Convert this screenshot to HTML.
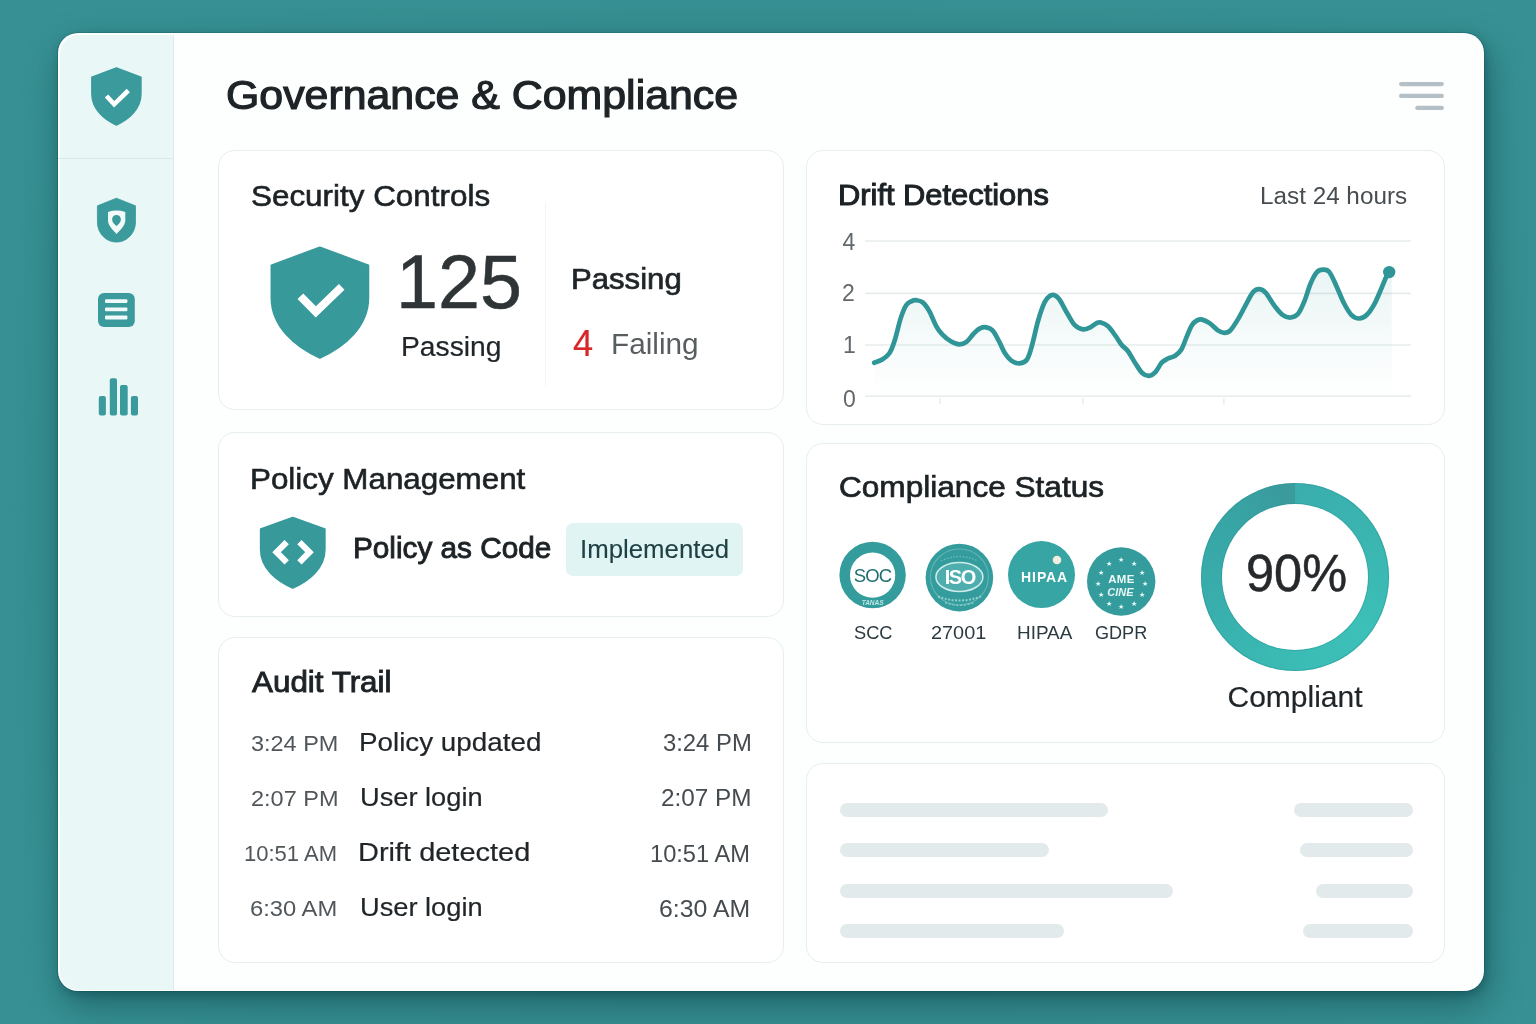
<!DOCTYPE html>
<html lang="en">
<head>
<meta charset="utf-8">
<title>Governance &amp; Compliance</title>
<style>
html,body{margin:0;padding:0}
body{width:1536px;height:1024px;overflow:hidden;position:relative;background:#368f91;font-family:"Liberation Sans",sans-serif}
.bg{position:absolute;left:0;top:0;width:1536px;height:1024px;background:radial-gradient(ellipse 80% 80% at 50% 50%,#358d90 0%,#368f92 60%,#389396 100%)}
.panel{position:absolute;left:58px;top:33px;width:1426px;height:958px;border-radius:20px;background:#fdfefe;box-shadow:4px 14px 36px rgba(6,52,58,.46),2px 4px 8px rgba(6,52,58,.30),0 0 0 1px rgba(20,105,110,.35)}
.side{position:absolute;left:59.5px;top:34.5px;width:113.5px;height:955px;background:#eaf7f7;border-radius:18.5px 0 0 18.5px;border-right:1px solid #dcebec}
.sdiv{position:absolute;left:58px;top:158px;width:115px;height:1px;background:#dbe9eb}
.card{position:absolute;background:#fff;border:1px solid #e6eef0;border-radius:17px;box-sizing:border-box}
.t{position:absolute;white-space:nowrap;line-height:1;margin:0;transform-origin:0 50%}
.abs{position:absolute}
.sk{position:absolute;height:14px;border-radius:7px;background:#e2eaeb}
svg{position:absolute;left:0;top:0;overflow:visible}
svg text{font-family:"Liberation Sans",sans-serif}
</style>
</head>
<body>
<div class="bg"></div>
<div class="panel"></div>
<div class="side"></div>
<div class="sdiv"></div>

<!-- cards -->
<div class="card" style="left:218px;top:150px;width:566px;height:260px"></div>
<div class="card" style="left:218px;top:432px;width:566px;height:185px"></div>
<div class="card" style="left:218px;top:637px;width:566px;height:326px"></div>
<div class="card" style="left:806px;top:150px;width:639px;height:275px"></div>
<div class="card" style="left:806px;top:443px;width:639px;height:300px"></div>
<div class="card" style="left:806px;top:763px;width:639px;height:200px"></div>

<!-- security divider -->
<div class="abs" style="left:545px;top:202px;width:1px;height:184px;background:#f3f6f6"></div>

<!-- implemented badge -->
<div class="abs" style="left:565.5px;top:522.5px;width:177px;height:53px;border-radius:7px;background:#e0f4f4"></div>

<!-- skeleton bars -->
<div class="sk" style="left:839.5px;top:803px;width:268.5px"></div>
<div class="sk" style="left:1294px;top:803px;width:119px"></div>
<div class="sk" style="left:839.5px;top:843px;width:209.5px"></div>
<div class="sk" style="left:1300px;top:843px;width:113px"></div>
<div class="sk" style="left:839.5px;top:884px;width:333.5px"></div>
<div class="sk" style="left:1316px;top:884px;width:97px"></div>
<div class="sk" style="left:839.5px;top:923.5px;width:224.5px"></div>
<div class="sk" style="left:1303px;top:923.5px;width:110px"></div>

<svg width="1536" height="1024" viewBox="0 0 1536 1024">
<defs>
<linearGradient id="area" x1="0" y1="0" x2="0" y2="1">
<stop offset="0" stop-color="#2f9596" stop-opacity=".10"/>
<stop offset="1" stop-color="#2f9596" stop-opacity="0"/>
</linearGradient>
<linearGradient id="ring" x1="0" y1="0" x2="1" y2="1">
<stop offset="0" stop-color="#35a0a1"/>
<stop offset="1" stop-color="#3cc0b8"/>
</linearGradient>
</defs>

<!-- hamburger -->
<g stroke="#b4c0c6" stroke-width="4.2" stroke-linecap="round">
<line x1="1401.1" y1="84.1" x2="1441.8" y2="84.1"/>
<line x1="1401.1" y1="95.9" x2="1441.8" y2="95.9"/>
<line x1="1417.3" y1="107.9" x2="1441.8" y2="107.9"/>
</g>

<!-- sidebar logo shield -->
<g transform="translate(91.85,68.05) scale(0.491,0.50)">
<path d="M50 0 L100 18.5 V52 C100 82 75 103 50 114 C25 103 0 82 0 52 V18.5 Z" fill="#3a9a9c" stroke="#3a9a9c" stroke-width="3" stroke-linejoin="round"/>
</g>
<polyline points="106.5,96 114.2,104.3 128.3,90.5" fill="none" stroke="#fff" stroke-width="4.6"/>

<!-- sidebar icon 2: shield with pin -->
<path d="M116.4 198.2 L135.5 205.8 V222 C135.5 233.4 126.8 242.1 116.4 242.1 C106 242.1 97.4 233.4 97.4 222 V205.8 Z" fill="#3a9a9c" stroke="#3a9a9c" stroke-width="0.8" stroke-linejoin="round"/>
<path d="M108 212 Q116.6 209.2 125.3 212 V220.5 C125.3 225.5 120 230.5 116.6 233.9 C113.2 230.5 108 225.5 108 220.5 Z" fill="#f2fafa"/>
<path d="M116.5 214.9 C119.2 214.9 120.9 217 120.9 219.4 C120.9 222.2 118.3 224.3 116.5 225.9 C114.7 224.3 112.1 222.2 112.1 219.4 C112.1 217 113.8 214.9 116.5 214.9 Z" fill="#3a9a9c"/>

<!-- sidebar icon 3: list -->
<rect x="98" y="292.9" width="36.8" height="34.2" rx="6" fill="#3a9a9c"/>
<g fill="#f1fafa">
<rect x="105" y="299.3" width="22.4" height="3.8" rx="1"/>
<rect x="105" y="307.4" width="22.4" height="3.8" rx="1"/>
<rect x="105" y="315.6" width="22.4" height="3.8" rx="1"/>
</g>

<!-- sidebar icon 4: bars -->
<g fill="#3a9a9c">
<rect x="98.8" y="396" width="7.1" height="19.6" rx="2"/>
<rect x="109.8" y="378.3" width="7.2" height="37.3" rx="2"/>
<rect x="120" y="385" width="7.7" height="30.6" rx="2"/>
<rect x="130.9" y="396" width="7.1" height="19.6" rx="2"/>
</g>

<!-- big shield -->
<g transform="translate(271.5,247.4) scale(0.968,0.968)">
<path d="M50 0 L100 18.5 V52 C100 82 75 103 50 114 C25 103 0 82 0 52 V18.5 Z" fill="#38999b" stroke="#38999b" stroke-width="2" stroke-linejoin="round"/>
</g>
<polyline points="300.4,296.2 315.8,311.9 341.7,286.8" fill="none" stroke="#fff" stroke-width="8"/>

<!-- policy shield -->
<g transform="translate(260.8,517.7) scale(0.639,0.615)">
<path d="M50 0 L100 18.5 V52 C100 82 75 103 50 114 C25 103 0 82 0 52 V18.5 Z" fill="#38999b" stroke="#38999b" stroke-width="3" stroke-linejoin="round"/>
</g>
<g fill="none" stroke="#fff" stroke-width="6.1">
<polyline points="286.7,542.1 276.6,552.2 286.7,562.4"/>
<polyline points="299.4,542.1 309.5,552.2 299.4,562.4"/>
</g>

<!-- chart -->
<g stroke="#e7ecec" stroke-width="1.6">
<line x1="865" y1="241" x2="1411" y2="241"/>
<line x1="865" y1="293.4" x2="1411" y2="293.4"/>
<line x1="865" y1="345" x2="1411" y2="345"/>
<line x1="865" y1="396.3" x2="1411" y2="396.3"/>
<line x1="939.8" y1="398.3" x2="939.8" y2="404.3"/>
<line x1="1083.1" y1="398.3" x2="1083.1" y2="404.3"/>
<line x1="1223.8" y1="398.3" x2="1223.8" y2="404.3"/>
</g>
<path d="M874.2 362.7C875.5 362.2 879.6 361.2 882.1 359.6C884.6 358.0 887.3 356.4 889.4 353.3C891.5 350.2 892.7 346.7 894.6 340.8C896.5 334.9 898.9 323.8 900.8 317.9C902.7 312.0 904.2 308.2 906.0 305.4C907.8 302.6 909.5 302.2 911.3 301.3C913.0 300.4 914.6 300.0 916.5 300.2C918.4 300.4 920.6 300.6 922.7 302.3C924.8 304.0 926.7 306.6 929.0 310.6C931.3 314.6 934.0 322.3 936.3 326.3C938.5 330.3 940.1 332.1 942.5 334.6C944.9 337.1 948.0 339.7 950.8 341.3C953.6 342.9 956.6 344.3 959.2 344.4C961.8 344.5 964.1 343.7 966.5 341.9C968.9 340.1 971.5 335.8 973.8 333.5C976.0 331.2 977.9 329.3 980.0 328.3C982.1 327.3 984.2 327.0 986.3 327.3C988.4 327.6 990.4 328.1 992.5 330.4C994.6 332.6 996.7 337.0 998.8 340.8C1000.9 344.6 1002.9 350.0 1005.0 353.3C1007.1 356.6 1008.9 358.9 1011.3 360.6C1013.7 362.3 1017.0 363.5 1019.6 363.3C1022.2 363.1 1024.8 362.7 1026.9 359.6C1029.0 356.6 1030.2 351.6 1032.1 345.0C1034.0 338.4 1036.2 327.1 1038.3 320.0C1040.4 312.9 1042.7 306.3 1044.6 302.3C1046.5 298.3 1048.2 297.2 1049.8 296.0C1051.4 294.8 1052.4 294.5 1054.0 295.0C1055.6 295.5 1057.0 296.1 1059.2 299.2C1061.5 302.3 1064.9 309.5 1067.5 313.8C1070.1 318.1 1072.2 322.6 1074.8 325.2C1077.4 327.8 1080.5 329.0 1083.1 329.4C1085.7 329.8 1088.1 328.4 1090.4 327.3C1092.7 326.2 1095.0 323.9 1096.7 323.1C1098.4 322.3 1098.9 322.0 1100.8 322.5C1102.7 323.0 1105.7 324.1 1108.1 326.3C1110.5 328.5 1113.1 332.5 1115.4 335.6C1117.7 338.7 1119.6 342.4 1121.7 345.0C1123.8 347.6 1125.8 348.1 1128.1 351.3C1130.4 354.5 1133.4 360.4 1135.8 364.0C1138.2 367.6 1140.0 370.9 1142.2 372.9C1144.4 374.9 1146.8 375.9 1149.0 375.8C1151.2 375.7 1153.3 374.3 1155.4 372.1C1157.5 369.9 1159.6 365.0 1161.7 362.7C1163.8 360.4 1165.7 359.6 1167.9 358.5C1170.2 357.4 1172.9 357.4 1175.2 355.8C1177.5 354.2 1179.6 352.4 1181.5 349.2C1183.4 346.0 1185.0 340.7 1186.7 336.7C1188.4 332.7 1190.2 327.9 1191.9 325.2C1193.6 322.5 1195.4 321.3 1197.1 320.4C1198.8 319.5 1200.2 319.2 1202.3 319.6C1204.4 320.1 1207.0 321.3 1209.6 323.1C1212.2 324.9 1215.5 328.8 1217.9 330.4C1220.3 332.0 1222.1 332.9 1224.2 332.9C1226.3 332.9 1228.0 332.9 1230.4 330.4C1232.8 327.9 1236.0 322.6 1238.8 317.9C1241.6 313.2 1244.7 306.6 1247.1 302.3C1249.5 298.0 1251.2 294.1 1253.3 291.9C1255.4 289.7 1257.5 289.0 1259.6 289.2C1261.7 289.4 1263.4 290.2 1265.8 292.9C1268.2 295.6 1271.4 301.8 1274.2 305.4C1277.0 309.0 1279.7 312.8 1282.5 314.8C1285.3 316.8 1288.2 317.7 1290.8 317.5C1293.4 317.3 1295.8 316.5 1298.1 313.8C1300.4 311.1 1302.3 306.4 1304.4 301.3C1306.5 296.2 1308.5 288.4 1310.6 283.5C1312.7 278.6 1314.8 274.4 1316.9 272.1C1319.0 269.8 1321.0 269.6 1323.1 269.6C1325.2 269.6 1327.1 269.2 1329.4 272.1C1331.7 275.0 1334.3 281.5 1336.7 286.7C1339.1 291.9 1341.6 298.6 1344.0 303.3C1346.4 308.0 1348.8 312.3 1351.3 314.8C1353.8 317.3 1356.6 318.5 1359.2 318.5C1361.8 318.5 1364.4 317.2 1366.9 314.8C1369.4 312.4 1372.0 308.4 1374.2 304.4C1376.5 300.4 1378.5 295.1 1380.4 290.8C1382.3 286.5 1384.2 281.4 1385.6 278.3C1387.0 275.2 1388.3 273.1 1388.8 272.1 L1391.8 277 L1391.8 396 L874.2 396 Z" fill="url(#area)"/>
<path d="M874.2 362.7C875.5 362.2 879.6 361.2 882.1 359.6C884.6 358.0 887.3 356.4 889.4 353.3C891.5 350.2 892.7 346.7 894.6 340.8C896.5 334.9 898.9 323.8 900.8 317.9C902.7 312.0 904.2 308.2 906.0 305.4C907.8 302.6 909.5 302.2 911.3 301.3C913.0 300.4 914.6 300.0 916.5 300.2C918.4 300.4 920.6 300.6 922.7 302.3C924.8 304.0 926.7 306.6 929.0 310.6C931.3 314.6 934.0 322.3 936.3 326.3C938.5 330.3 940.1 332.1 942.5 334.6C944.9 337.1 948.0 339.7 950.8 341.3C953.6 342.9 956.6 344.3 959.2 344.4C961.8 344.5 964.1 343.7 966.5 341.9C968.9 340.1 971.5 335.8 973.8 333.5C976.0 331.2 977.9 329.3 980.0 328.3C982.1 327.3 984.2 327.0 986.3 327.3C988.4 327.6 990.4 328.1 992.5 330.4C994.6 332.6 996.7 337.0 998.8 340.8C1000.9 344.6 1002.9 350.0 1005.0 353.3C1007.1 356.6 1008.9 358.9 1011.3 360.6C1013.7 362.3 1017.0 363.5 1019.6 363.3C1022.2 363.1 1024.8 362.7 1026.9 359.6C1029.0 356.6 1030.2 351.6 1032.1 345.0C1034.0 338.4 1036.2 327.1 1038.3 320.0C1040.4 312.9 1042.7 306.3 1044.6 302.3C1046.5 298.3 1048.2 297.2 1049.8 296.0C1051.4 294.8 1052.4 294.5 1054.0 295.0C1055.6 295.5 1057.0 296.1 1059.2 299.2C1061.5 302.3 1064.9 309.5 1067.5 313.8C1070.1 318.1 1072.2 322.6 1074.8 325.2C1077.4 327.8 1080.5 329.0 1083.1 329.4C1085.7 329.8 1088.1 328.4 1090.4 327.3C1092.7 326.2 1095.0 323.9 1096.7 323.1C1098.4 322.3 1098.9 322.0 1100.8 322.5C1102.7 323.0 1105.7 324.1 1108.1 326.3C1110.5 328.5 1113.1 332.5 1115.4 335.6C1117.7 338.7 1119.6 342.4 1121.7 345.0C1123.8 347.6 1125.8 348.1 1128.1 351.3C1130.4 354.5 1133.4 360.4 1135.8 364.0C1138.2 367.6 1140.0 370.9 1142.2 372.9C1144.4 374.9 1146.8 375.9 1149.0 375.8C1151.2 375.7 1153.3 374.3 1155.4 372.1C1157.5 369.9 1159.6 365.0 1161.7 362.7C1163.8 360.4 1165.7 359.6 1167.9 358.5C1170.2 357.4 1172.9 357.4 1175.2 355.8C1177.5 354.2 1179.6 352.4 1181.5 349.2C1183.4 346.0 1185.0 340.7 1186.7 336.7C1188.4 332.7 1190.2 327.9 1191.9 325.2C1193.6 322.5 1195.4 321.3 1197.1 320.4C1198.8 319.5 1200.2 319.2 1202.3 319.6C1204.4 320.1 1207.0 321.3 1209.6 323.1C1212.2 324.9 1215.5 328.8 1217.9 330.4C1220.3 332.0 1222.1 332.9 1224.2 332.9C1226.3 332.9 1228.0 332.9 1230.4 330.4C1232.8 327.9 1236.0 322.6 1238.8 317.9C1241.6 313.2 1244.7 306.6 1247.1 302.3C1249.5 298.0 1251.2 294.1 1253.3 291.9C1255.4 289.7 1257.5 289.0 1259.6 289.2C1261.7 289.4 1263.4 290.2 1265.8 292.9C1268.2 295.6 1271.4 301.8 1274.2 305.4C1277.0 309.0 1279.7 312.8 1282.5 314.8C1285.3 316.8 1288.2 317.7 1290.8 317.5C1293.4 317.3 1295.8 316.5 1298.1 313.8C1300.4 311.1 1302.3 306.4 1304.4 301.3C1306.5 296.2 1308.5 288.4 1310.6 283.5C1312.7 278.6 1314.8 274.4 1316.9 272.1C1319.0 269.8 1321.0 269.6 1323.1 269.6C1325.2 269.6 1327.1 269.2 1329.4 272.1C1331.7 275.0 1334.3 281.5 1336.7 286.7C1339.1 291.9 1341.6 298.6 1344.0 303.3C1346.4 308.0 1348.8 312.3 1351.3 314.8C1353.8 317.3 1356.6 318.5 1359.2 318.5C1361.8 318.5 1364.4 317.2 1366.9 314.8C1369.4 312.4 1372.0 308.4 1374.2 304.4C1376.5 300.4 1378.5 295.1 1380.4 290.8C1382.3 286.5 1384.2 281.4 1385.6 278.3C1387.0 275.2 1388.3 273.1 1388.8 272.1" fill="none" stroke="#2f9596" stroke-width="4.7" stroke-linecap="round" stroke-linejoin="round"/>
<circle cx="1389.2" cy="272.1" r="6.2" fill="#2f9596"/>

<!-- donut -->


<!-- badges -->
<circle cx="872.6" cy="575" r="33.2" fill="#349c9d"/>
<circle cx="872.6" cy="575.2" r="22.6" fill="#fff"/>
<text x="872.6" y="581.8" font-size="18.5" text-anchor="middle" fill="#1f6f72" letter-spacing="-0.8">SOC</text>
<text x="872.6" y="604.5" font-size="6.5" text-anchor="middle" fill="#bfe6e5" font-style="italic" font-weight="700">TANAS</text>

<circle cx="959.4" cy="577.6" r="33.8" fill="#349c9d"/>
<ellipse cx="959.4" cy="577" rx="29" ry="28" fill="none" stroke="#5fb4b3" stroke-width="1.2"/>
<ellipse cx="959.4" cy="577" rx="23.5" ry="14.5" fill="#4eaeae" stroke="#cfeceb" stroke-width="1.5"/>
<text x="959.8" y="584.3" font-size="20" font-weight="700" text-anchor="middle" fill="#fff" letter-spacing="-1.4">ISO</text>
<path d="M938 596.5 Q959.4 604.5 981 596.5" fill="none" stroke="#8fd0ce" stroke-width="2" stroke-dasharray="2 1.5"/>
<path d="M945 602.5 Q959.4 608 974 602.5" fill="none" stroke="#7cc6c4" stroke-width="1.6" stroke-dasharray="2.4 1.4"/>
<path d="M941 561 Q959.4 552 978 561" fill="none" stroke="#6dbdbb" stroke-width="1.2" stroke-dasharray="1.6 1.6"/>

<circle cx="1041.5" cy="574.6" r="33.5" fill="#36a5a4"/>
<text x="1044.6" y="581.8" font-size="14" font-weight="700" text-anchor="middle" fill="#fff" letter-spacing="0.9">HIPAA</text>
<circle cx="1057" cy="560" r="4.3" fill="#f3ede0"/>

<circle cx="1121.2" cy="581.5" r="34.2" fill="#349c9d"/>
<text x="1121.5" y="582.5" font-size="11.5" font-weight="700" text-anchor="middle" fill="#eefaf9" letter-spacing="0.3">AME</text>
<text x="1120.5" y="595.5" font-size="11" font-weight="700" text-anchor="middle" fill="#e3f5f4" font-style="italic">CINE</text>
<g fill="#e9f8f7" font-size="7" text-anchor="middle">
<text x="1121.2" y="562">★</text>
<text x="1133.5" y="565.5">★</text>
<text x="1142" y="574.5">★</text>
<text x="1145" y="586">★</text>
<text x="1142" y="597">★</text>
<text x="1133.5" y="605.5">★</text>
<text x="1121.2" y="609">★</text>
<text x="1109" y="605.5">★</text>
<text x="1100.5" y="597">★</text>
<text x="1097.5" y="586">★</text>
<text x="1100.5" y="574.5">★</text>
<text x="1109" y="565.5">★</text>
</g>
</svg>

<!-- donut -->
<div class="abs" style="left:1201.3px;top:482.6px;width:188px;height:188px;border-radius:50%;background:conic-gradient(from 0deg,#3aaead 0deg,#3bb6b1 70deg,#3cc0b8 130deg,#3bbab4 190deg,#38adab 260deg,#38a5a5 310deg,#3a9c9e 345deg,#3b9a9c 360deg);box-shadow:inset 0 0 0 1px rgba(40,150,150,.5)"></div>
<div class="abs" style="left:1222.3px;top:503.6px;width:146px;height:146px;border-radius:50%;background:#fff;box-shadow:0 0 0 1px rgba(40,150,150,.45)"></div>
<div class="t" style="left:225.8px;top:75.0px;font-size:40.5px;color:#1d2326;transform:scaleX(1.058);-webkit-text-stroke:1.2px #1d2326;">Governance &amp; Compliance</div>
<div class="t" style="left:251.2px;top:181.8px;font-size:29.2px;color:#1c2225;transform:scaleX(1.076);-webkit-text-stroke:0.6px #1c2225;">Security Controls</div>
<div class="t" style="left:396.1px;top:244.9px;font-size:75.5px;color:#2f3437;-webkit-text-stroke:0.5px #2f3437;">125</div>
<div class="t" style="left:400.5px;top:333.5px;font-size:27px;color:#1f2528;transform:scaleX(1.046);-webkit-text-stroke:0.2px #1f2528;">Passing</div>
<div class="t" style="left:571.2px;top:264.5px;font-size:29px;color:#1f2528;transform:scaleX(1.073);-webkit-text-stroke:0.7px #1f2528;">Passing</div>
<div class="t" style="left:573.1px;top:325.6px;font-size:36.5px;color:#d9262a;transform:scaleX(0.990);-webkit-text-stroke:0.2px #d9262a;">4</div>
<div class="t" style="left:611.0px;top:329.2px;font-size:30px;color:#585d60;transform:scaleX(0.992);">Failing</div>
<div class="t" style="left:250.1px;top:465.1px;font-size:29px;color:#1c2225;transform:scaleX(1.081);-webkit-text-stroke:0.6px #1c2225;">Policy Management</div>
<div class="t" style="left:353.4px;top:534.3px;font-size:29px;color:#1c2225;transform:scaleX(1.025);-webkit-text-stroke:0.9px #1c2225;">Policy as Code</div>
<div class="t" style="left:580.0px;top:537.2px;font-size:25.5px;color:#1f4045;transform:scaleX(1.012);-webkit-text-stroke:0.1px #1f4045;">Implemented</div>
<div class="t" style="left:252.4px;top:667.5px;font-size:29px;color:#1c2225;transform:scaleX(1.082);-webkit-text-stroke:0.9px #1c2225;">Audit Trail</div>
<div class="t" style="left:251.0px;top:732.7px;font-size:22.5px;color:#50565a;transform:scaleX(1.043);">3:24 PM</div>
<div class="t" style="left:358.5px;top:730.1px;font-size:25.5px;color:#1f2528;transform:scaleX(1.090);-webkit-text-stroke:0.2px #1f2528;">Policy updated</div>
<div class="t" style="left:662.5px;top:732.2px;font-size:23px;color:#454b4f;transform:scaleX(1.036);">3:24 PM</div>
<div class="t" style="left:251.0px;top:787.8px;font-size:22.5px;color:#50565a;transform:scaleX(1.044);">2:07 PM</div>
<div class="t" style="left:359.6px;top:785.2px;font-size:25.5px;color:#1f2528;transform:scaleX(1.068);-webkit-text-stroke:0.2px #1f2528;">User login</div>
<div class="t" style="left:660.6px;top:787.3px;font-size:23px;color:#454b4f;transform:scaleX(1.058);">2:07 PM</div>
<div class="t" style="left:244.0px;top:843.0px;font-size:22.5px;color:#50565a;transform:scaleX(0.979);">10:51 AM</div>
<div class="t" style="left:358.4px;top:840.4px;font-size:25.5px;color:#1f2528;transform:scaleX(1.136);-webkit-text-stroke:0.2px #1f2528;">Drift detected</div>
<div class="t" style="left:650.0px;top:842.5px;font-size:23px;color:#454b4f;transform:scaleX(1.028);">10:51 AM</div>
<div class="t" style="left:249.9px;top:898.0px;font-size:22.5px;color:#50565a;transform:scaleX(1.056);">6:30 AM</div>
<div class="t" style="left:359.6px;top:895.4px;font-size:25.5px;color:#1f2528;transform:scaleX(1.068);-webkit-text-stroke:0.2px #1f2528;">User login</div>
<div class="t" style="left:658.7px;top:897.5px;font-size:23px;color:#454b4f;transform:scaleX(1.080);">6:30 AM</div>
<div class="t" style="left:838.4px;top:181.3px;font-size:28.8px;color:#1c2225;transform:scaleX(1.071);-webkit-text-stroke:1.0px #1c2225;">Drift Detections</div>
<div class="t" style="left:1259.6px;top:184.6px;font-size:23.5px;color:#474d50;transform:scaleX(1.033);">Last 24 hours</div>
<div class="t" style="left:842.5px;top:230.8px;font-size:23px;color:#62686c;">4</div>
<div class="t" style="left:842.0px;top:282.3px;font-size:23px;color:#62686c;">2</div>
<div class="t" style="left:843.0px;top:334.3px;font-size:23px;color:#62686c;">1</div>
<div class="t" style="left:843.0px;top:387.5px;font-size:23px;color:#62686c;">0</div>
<div class="t" style="left:839.3px;top:473.4px;font-size:29px;color:#1c2225;transform:scaleX(1.089);-webkit-text-stroke:0.7px #1c2225;">Compliance Status</div>
<div class="t" style="left:1246.1px;top:546.6px;font-size:52px;color:#26292b;transform:scaleX(0.972);-webkit-text-stroke:0.5px #26292b;">90%</div>
<div class="t" style="left:1227.5px;top:681.7px;font-size:30px;color:#1f2528;-webkit-text-stroke:0.2px #1f2528;">Compliant</div>
<div class="t" style="left:853.7px;top:623.2px;font-size:19px;color:#2b3a40;transform:scaleX(0.960);">SCC</div>
<div class="t" style="left:931.0px;top:623.2px;font-size:19px;color:#2b3a40;transform:scaleX(1.045);">27001</div>
<div class="t" style="left:1017.3px;top:623.2px;font-size:19px;color:#2b3a40;transform:scaleX(0.994);">HIPAA</div>
<div class="t" style="left:1094.8px;top:623.2px;font-size:19px;color:#2b3a40;transform:scaleX(0.951);">GDPR</div>
</body>
</html>
